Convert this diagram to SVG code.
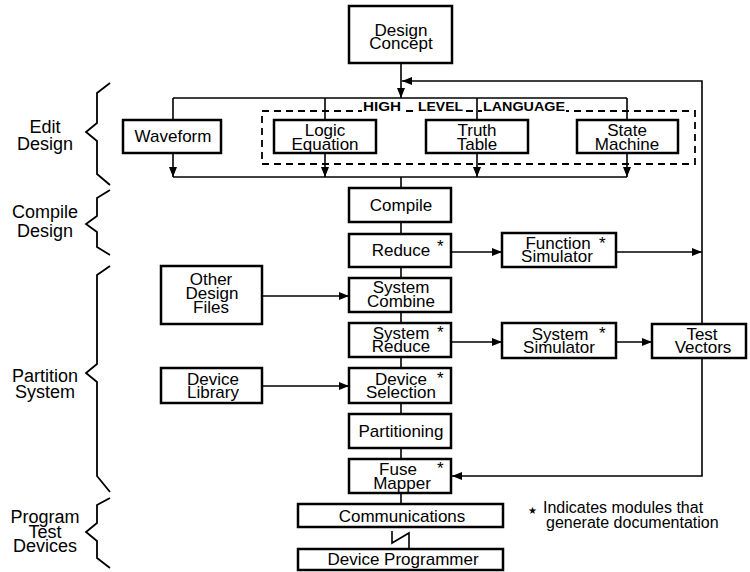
<svg xmlns="http://www.w3.org/2000/svg" width="750" height="572" viewBox="0 0 750 572">
  <style>
    .box { fill: #fff; stroke: #000; stroke-width: 2.5; }
    .ln { fill: none; stroke: #000; stroke-width: 1.6; }
    .arr { fill: none; stroke: #000; stroke-width: 1.6; marker-end: url(#ah); }
    .dash { fill: none; stroke: #000; stroke-width: 1.8; stroke-dasharray: 7 5; }
    .brace { fill: none; stroke: #000; stroke-width: 1.8; stroke-linejoin: miter; }
    text { font-family: "Liberation Sans", Arial, Helvetica, sans-serif; fill: #000; }
    .t { font-size: 17px; text-anchor: middle; }
    .star { font-size: 17px; }
    .lbl { font-size: 18px; text-anchor: middle; }
    .hl { font-size: 13px; font-weight: bold; }
    .note { font-size: 16px; }
  </style>
  <defs>
    <marker id="ah" markerUnits="userSpaceOnUse" markerWidth="10" markerHeight="8" refX="10" refY="4" orient="auto">
      <path d="M0,0 L10,4 L0,8 z" fill="#000"/>
    </marker>
  </defs>
  <rect width="750" height="572" fill="#fff"/>

  <!-- stage braces and labels -->
  <g id="stage-edit">
    <polyline class="brace" points="110,83 97,93 97,123 86,132 97,141 97,174 110,185"/>
    <text class="lbl" x="45" y="133">Edit</text>
    <text class="lbl" x="45" y="150">Design</text>
  </g>
  <g id="stage-compile">
    <polyline class="brace" points="110,190 97,198 97,216 86,224 97,232 97,247 110,255"/>
    <text class="lbl" x="45" y="218">Compile</text>
    <text class="lbl" x="45" y="237">Design</text>
  </g>
  <g id="stage-partition">
    <polyline class="brace" points="110,266 97,275 97,364 86,373 97,382 97,476 110,492"/>
    <text class="lbl" x="45" y="382">Partition</text>
    <text class="lbl" x="45" y="398">System</text>
  </g>
  <g id="stage-program">
    <polyline class="brace" points="110,498 97,505 97,523 86,532 97,541 97,558 110,568"/>
    <text class="lbl" x="45" y="523">Program</text>
    <text class="lbl" x="45" y="538">Test</text>
    <text class="lbl" x="45" y="552">Devices</text>
  </g>

  <!-- high level language group -->
  <g id="high-level-language">
    <rect class="dash" x="262" y="111" width="433" height="53"/>
    <rect x="362" y="100" width="40" height="12" fill="#fff"/>
    <rect x="417" y="100" width="47" height="12" fill="#fff"/>
    <rect x="482" y="100" width="84" height="12" fill="#fff"/>
    <text class="hl" x="363" y="111" textLength="38" lengthAdjust="spacingAndGlyphs">HIGH</text>
    <text class="hl" x="418" y="111" textLength="45" lengthAdjust="spacingAndGlyphs">LEVEL</text>
    <text class="hl" x="483" y="111" textLength="82" lengthAdjust="spacingAndGlyphs">LANGUAGE</text>
  </g>

  <!-- connectors -->
  <g id="connectors">
    <line class="arr" x1="401" y1="63" x2="401" y2="98"/>
    <polyline class="arr" points="702,324 702,81 402,81"/>
    <line class="ln" x1="173" y1="98" x2="627" y2="98"/>
    <line class="ln" x1="173" y1="98" x2="173" y2="121"/>
    <line class="ln" x1="325" y1="98" x2="325" y2="120"/>
    <line class="ln" x1="477" y1="98" x2="477" y2="120"/>
    <line class="ln" x1="627" y1="98" x2="627" y2="120"/>
    <line class="arr" x1="173" y1="153" x2="173" y2="177"/>
    <line class="arr" x1="325" y1="153" x2="325" y2="177"/>
    <line class="arr" x1="477" y1="153" x2="477" y2="177"/>
    <line class="arr" x1="627" y1="153" x2="627" y2="177"/>
    <line class="ln" x1="173" y1="177" x2="627" y2="177"/>
    <line class="ln" x1="401" y1="177" x2="401" y2="188"/>
    <line class="ln" x1="401" y1="222" x2="401" y2="234"/>
    <line class="ln" x1="401" y1="267" x2="401" y2="278"/>
    <line class="ln" x1="401" y1="312" x2="401" y2="323"/>
    <line class="ln" x1="401" y1="357" x2="401" y2="368"/>
    <line class="ln" x1="401" y1="403" x2="401" y2="414"/>
    <line class="ln" x1="401" y1="448" x2="401" y2="459"/>
    <line class="ln" x1="401" y1="493" x2="401" y2="504"/>
    <line class="arr" x1="451" y1="252" x2="502" y2="252"/>
    <line class="arr" x1="616" y1="252" x2="702" y2="252"/>
    <line class="arr" x1="451" y1="342" x2="502" y2="342"/>
    <line class="arr" x1="616" y1="342" x2="652" y2="342"/>
    <polyline class="arr" points="702,358 702,476 452,476"/>
    <line class="arr" x1="262" y1="296" x2="349" y2="296"/>
    <line class="arr" x1="262" y1="386" x2="349" y2="386"/>
    <polyline class="ln" points="392,531 392,543 409,533 409,549"/>
  </g>

  <!-- nodes -->
  <g id="design-concept">
    <rect class="box" x="349" y="6" width="103" height="57"/>
    <text class="t" x="401" y="36">Design</text>
    <text class="t" x="401" y="49">Concept</text>
  </g>
  <g id="waveform">
    <rect class="box" x="123" y="120" width="98" height="33"/>
    <text class="t" x="173" y="142">Waveform</text>
  </g>
  <g id="logic-equation">
    <rect class="box" x="274" y="120" width="102" height="33"/>
    <text class="t" x="325" y="136">Logic</text>
    <text class="t" x="325" y="150">Equation</text>
  </g>
  <g id="truth-table">
    <rect class="box" x="426" y="120" width="102" height="33"/>
    <text class="t" x="477" y="136">Truth</text>
    <text class="t" x="477" y="150">Table</text>
  </g>
  <g id="state-machine">
    <rect class="box" x="577" y="120" width="101" height="33"/>
    <text class="t" x="627" y="136">State</text>
    <text class="t" x="627" y="150">Machine</text>
  </g>
  <g id="compile">
    <rect class="box" x="349" y="188" width="102" height="34"/>
    <text class="t" x="401" y="211">Compile</text>
  </g>
  <g id="reduce">
    <rect class="box" x="349" y="234" width="102" height="33"/>
    <text class="t" x="401" y="256">Reduce</text>
    <text class="star" x="437" y="252">*</text>
  </g>
  <g id="system-combine">
    <rect class="box" x="349" y="278" width="102" height="34"/>
    <text class="t" x="401" y="293">System</text>
    <text class="t" x="401" y="307">Combine</text>
  </g>
  <g id="system-reduce">
    <rect class="box" x="349" y="323" width="102" height="34"/>
    <text class="t" x="401" y="339">System</text>
    <text class="t" x="401" y="352">Reduce</text>
    <text class="star" x="437" y="338">*</text>
  </g>
  <g id="device-selection">
    <rect class="box" x="349" y="368" width="102" height="35"/>
    <text class="t" x="401" y="385">Device</text>
    <text class="t" x="401" y="398">Selection</text>
    <text class="star" x="437" y="384">*</text>
  </g>
  <g id="partitioning">
    <rect class="box" x="349" y="414" width="102" height="34"/>
    <text class="t" x="401" y="437">Partitioning</text>
  </g>
  <g id="fuse-mapper">
    <rect class="box" x="349" y="459" width="102" height="34"/>
    <text class="t" x="398" y="475">Fuse</text>
    <text class="t" x="402" y="489">Mapper</text>
    <text class="star" x="437" y="474">*</text>
  </g>
  <g id="communications">
    <rect class="box" x="298" y="504" width="205" height="23"/>
    <text class="t" x="402" y="522">Communications</text>
  </g>
  <g id="device-programmer">
    <rect class="box" x="298" y="549" width="205" height="21"/>
    <text class="t" x="403" y="565">Device Programmer</text>
  </g>
  <g id="function-simulator">
    <rect class="box" x="502" y="233" width="114" height="34"/>
    <text class="t" x="558" y="249">Function</text>
    <text class="t" x="557" y="262">Simulator</text>
    <text class="star" x="599" y="249">*</text>
  </g>
  <g id="system-simulator">
    <rect class="box" x="502" y="323" width="114" height="35"/>
    <text class="t" x="560" y="340">System</text>
    <text class="t" x="559" y="353">Simulator</text>
    <text class="star" x="599" y="339">*</text>
  </g>
  <g id="test-vectors">
    <rect class="box" x="652" y="324" width="94" height="34"/>
    <text class="t" x="702" y="340">Test</text>
    <text class="t" x="703" y="353">Vectors</text>
  </g>
  <g id="other-design-files">
    <rect class="box" x="161" y="266" width="101" height="58"/>
    <text class="t" x="211" y="285">Other</text>
    <text class="t" x="212" y="299">Design</text>
    <text class="t" x="211" y="313">Files</text>
  </g>
  <g id="device-library">
    <rect class="box" x="161" y="368" width="101" height="35"/>
    <text class="t" x="213" y="385">Device</text>
    <text class="t" x="213" y="398">Library</text>
  </g>

  <!-- legend -->
  <g id="legend">
    <text x="528" y="514" style="font-family: 'DejaVu Sans', sans-serif; font-size: 10px;">★</text>
    <text class="note" x="543" y="513">Indicates modules that</text>
    <text class="note" x="546" y="528">generate documentation</text>
  </g>
</svg>
